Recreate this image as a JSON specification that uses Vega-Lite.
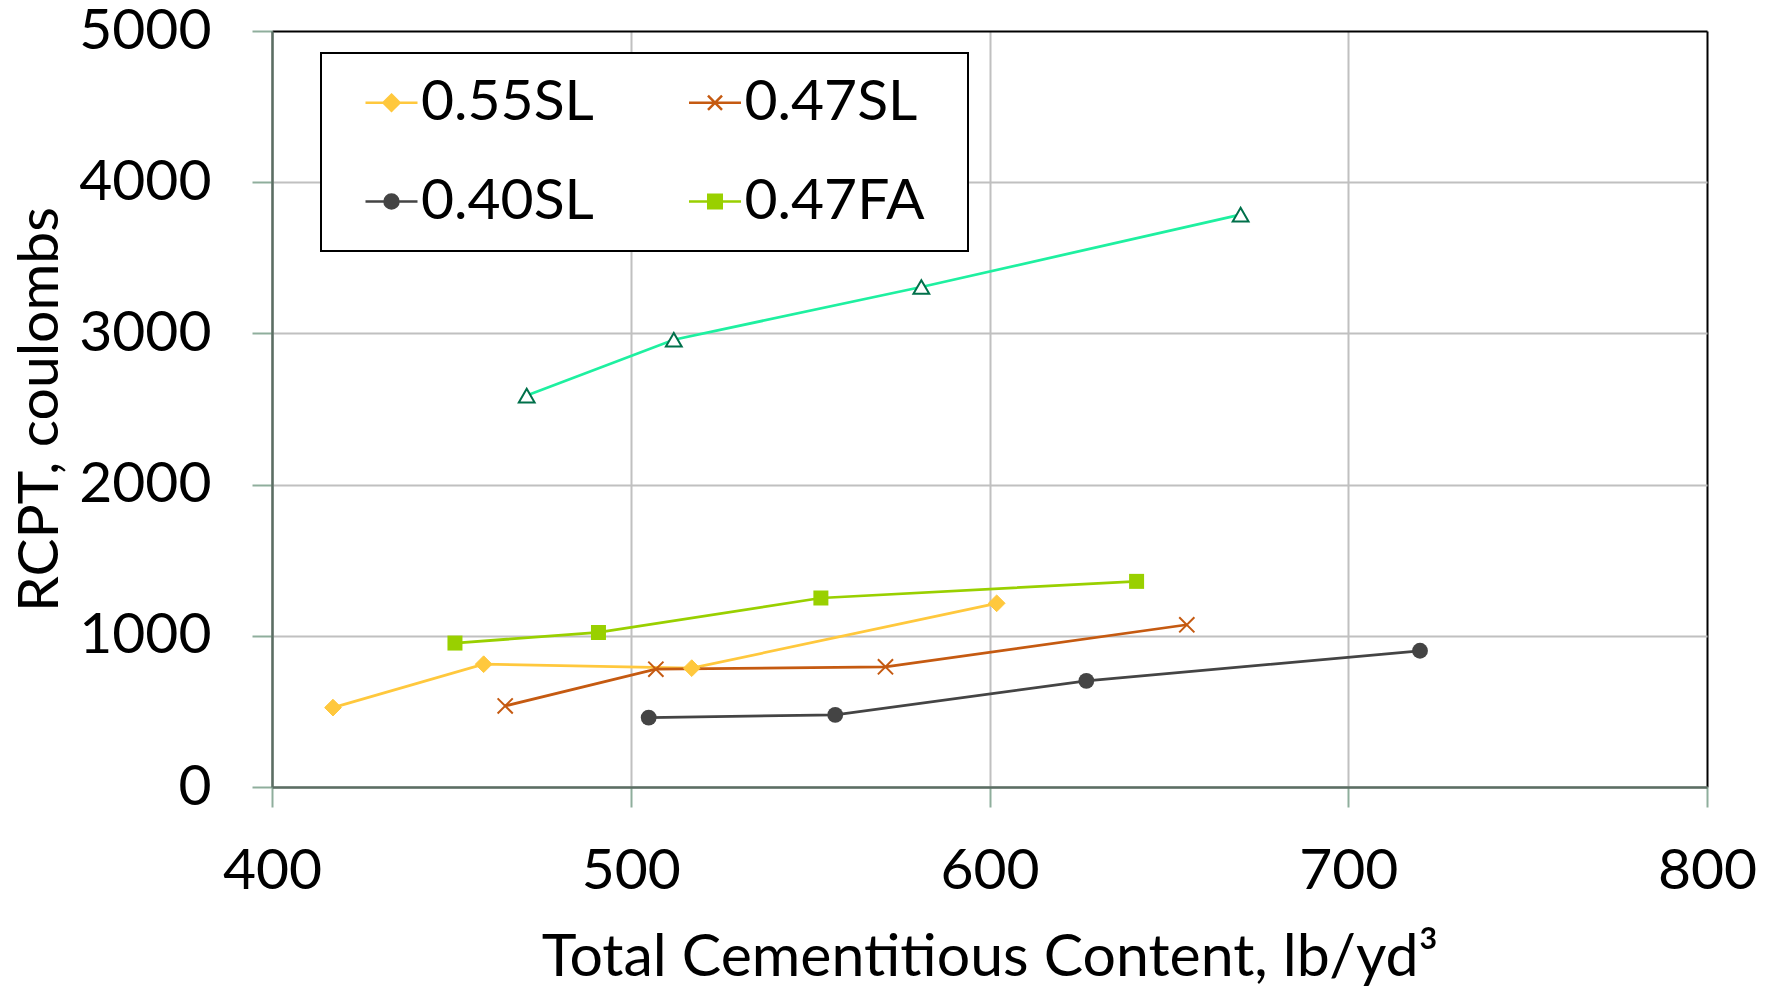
{
  "$schema": "https://vega.github.io/schema/vega-lite/v6.json",
  "width": 1435,
  "height": 756,
  "autosize": {"type": "none"},
  "padding": {"left": 272, "top": 31, "right": 67, "bottom": 200},
  "background": "white",
  "config": {"font": "Lato", "view": {"stroke": null}},
  "data": {
    "values": [
      {"series": "0.55SL", "x": 417, "y": 525},
      {"series": "0.55SL", "x": 459, "y": 812},
      {"series": "0.55SL", "x": 517, "y": 786},
      {"series": "0.55SL", "x": 602, "y": 1215},
      {"series": "0.47SL", "x": 465, "y": 536},
      {"series": "0.47SL", "x": 507, "y": 779},
      {"series": "0.47SL", "x": 571, "y": 795},
      {"series": "0.47SL", "x": 655, "y": 1073},
      {"series": "0.40SL", "x": 505, "y": 459},
      {"series": "0.40SL", "x": 557, "y": 477},
      {"series": "0.40SL", "x": 627, "y": 702},
      {"series": "0.40SL", "x": 720, "y": 901},
      {"series": "0.47FA", "x": 451, "y": 952},
      {"series": "0.47FA", "x": 491, "y": 1022},
      {"series": "0.47FA", "x": 553, "y": 1250},
      {"series": "0.47FA", "x": 641, "y": 1360},
      {"series": "other", "x": 471, "y": 2589},
      {"series": "other", "x": 512, "y": 2958},
      {"series": "other", "x": 581, "y": 3307},
      {"series": "other", "x": 670, "y": 3785}
    ]
  },
  "encoding": {
    "x": {
      "field": "x", "type": "quantitative",
      "scale": {"domain": [400, 800], "nice": false, "zero": false},
      "axis": {
        "title": "Total Cementitious Content, lb/yd³",
        "values": [400, 500, 600, 700, 800],
        "format": "d",
        "grid": true,
        "gridColor": {"condition": {"test": "datum.value === 800", "value": "black"}, "value": "#c0c0c0"},
        "gridWidth": 2,
        "domainColor": "#5b6e63", "domainWidth": 2.5,
        "tickColor": "#8fae9c", "tickSize": 20, "tickWidth": 2,
        "labelFontSize": 57, "labelColor": "black", "labelBaseline": "alphabetic",
        "labelPadding": 81, "labelFlush": false,
        "titleFontSize": 59, "titleFontWeight": "normal", "titleColor": "black",
        "titleBaseline": "alphabetic", "titleY": 188
      }
    },
    "y": {
      "field": "y", "type": "quantitative",
      "scale": {"domain": [0, 5000], "nice": false},
      "axis": {
        "title": "RCPT, coulombs",
        "values": [0, 1000, 2000, 3000, 4000, 5000],
        "format": "d",
        "grid": true,
        "gridColor": {"condition": {"test": "datum.value === 5000", "value": "black"}, "value": "#c0c0c0"},
        "gridWidth": 2,
        "domainColor": "#5b6e63", "domainWidth": 2.5,
        "tickColor": "#8fae9c", "tickSize": 20, "tickWidth": 2,
        "labelFontSize": 57, "labelColor": "black", "labelPadding": 41, "labelFlush": false,
        "titleFontSize": 57, "titleFontWeight": "normal", "titleColor": "black",
        "titleAngle": 270, "titleAlign": "center", "titleBaseline": "middle",
        "titleX": -232, "titleY": 378
      }
    }
  },
  "layer": [
    {
      "transform": [{"filter": "datum.series !== 'other'"}],
      "mark": {"type": "line", "strokeWidth": 2.75},
      "encoding": {
        "color": {
          "field": "series", "type": "nominal",
          "scale": {"domain": ["0.55SL", "0.47SL", "0.40SL", "0.47FA"], "range": ["#FFC83D", "#C55A11", "#444444", "#99D000"]},
          "legend": {
            "orient": "none", "legendX": 49, "legendY": 22, "columns": 2, "direction": "horizontal", "title": null,
            "fillColor": "white", "strokeColor": "black",
            "padding": 21, "columnPadding": 41.5, "rowPadding": 41,
            "labelFont": "Lato", "labelFontSize": 57, "labelColor": "black", "labelOffset": 1, "labelLimit": 500,
            "symbolSize": 2704, "symbolStrokeWidth": 2.5, "symbolOffset": 21,
            "encode": {
              "legend": {"update": {"strokeWidth": {"value": 2}}},
              "symbols": {
                "update": {
                  "shape": {"signal": "datum.value === '0.55SL' ? 'M8.72,0M-1,0H1M0,-0.31L0.31,0L0,0.31L-0.31,0Z' : datum.value === '0.47SL' ? 'M8.72,0M-1,0H1M-0.27,-0.27L0.27,0.27M0.27,-0.27L-0.27,0.27' : datum.value === '0.40SL' ? 'M8.72,0M-1,0H1M-0.27,0A0.27,0.27,0,1,0,0.27,0A0.27,0.27,0,1,0,-0.27,0Z' : 'M8.72,0M-1,0H1M-0.26,-0.26H0.26V0.26H-0.26Z'"},
                  "fill": {"scale": "color", "field": "value"},
                  "stroke": {"scale": "color", "field": "value"},
                  "opacity": {"value": 1}
                }
              }
            }
          }
        }
      }
    },
    {
      "transform": [{"filter": "datum.series === '0.55SL'"}],
      "mark": {"type": "point", "shape": "diamond", "filled": true, "fill": "#FFC83D", "stroke": "#FFC83D", "strokeWidth": 1, "size": 280, "opacity": 1},
      "encoding": {}
    },
    {
      "transform": [{"filter": "datum.series === '0.47SL'"}],
      "mark": {"type": "point", "shape": "M-1,-1L1,1M1,-1L-1,1", "filled": false, "stroke": "#C55A11", "strokeWidth": 2, "size": 230, "opacity": 1},
      "encoding": {}
    },
    {
      "transform": [{"filter": "datum.series === '0.40SL'"}],
      "mark": {"type": "point", "shape": "circle", "filled": true, "fill": "#444444", "size": 250, "opacity": 1},
      "encoding": {}
    },
    {
      "transform": [{"filter": "datum.series === '0.47FA'"}],
      "mark": {"type": "point", "shape": "square", "filled": true, "fill": "#99D000", "size": 225, "opacity": 1},
      "encoding": {}
    },
    {
      "transform": [{"filter": "datum.series === 'other'"}],
      "mark": {"type": "line", "strokeWidth": 2.75, "color": "#1EF0A0"},
      "encoding": {}
    },
    {
      "transform": [{"filter": "datum.series === 'other'"}],
      "mark": {"type": "point", "shape": "triangle-up", "size": 250, "filled": false, "fill": "white", "fillOpacity": 1, "stroke": "#00704A", "strokeWidth": 2, "opacity": 1},
      "encoding": {}
    }
  ]
}
